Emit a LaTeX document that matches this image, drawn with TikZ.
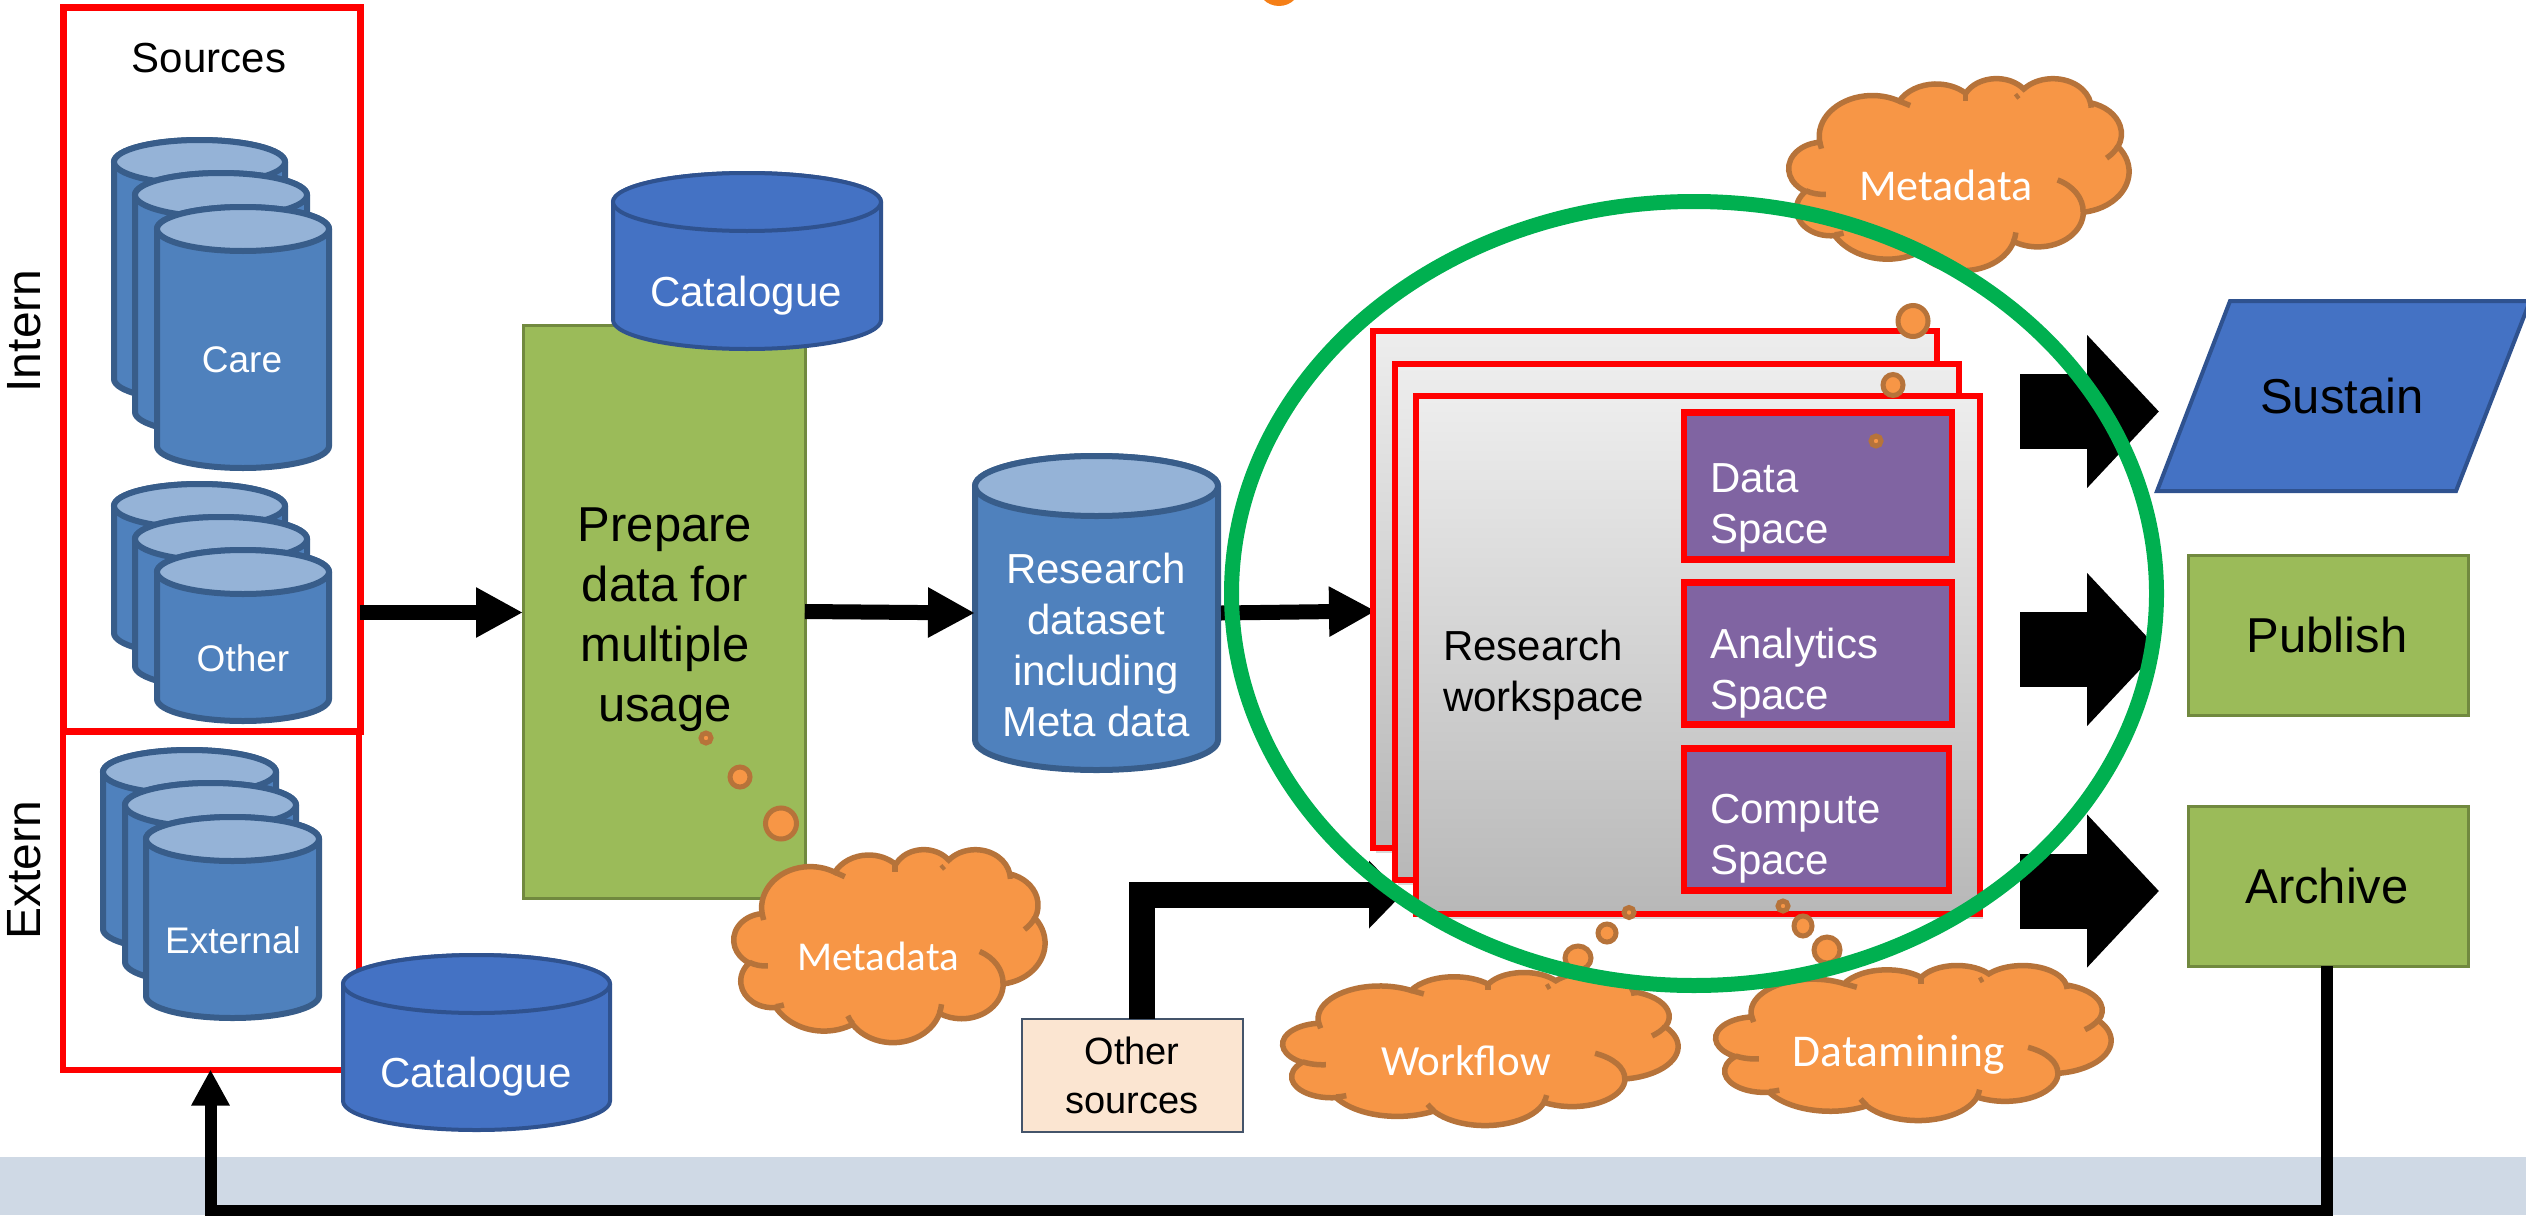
\documentclass[tikz,border=0pt]{standalone}
\usepackage{fontspec}
\setmainfont{Liberation Sans}
\newfontfamily\cloudfont{Carlito}
\usetikzlibrary{arrows.meta,shapes.geometric,shadows}
\definecolor{cylfill}{HTML}{4F81BD}
\definecolor{cylline}{HTML}{385D8A}
\definecolor{cyltop}{HTML}{95B3D7}
\definecolor{catfill}{HTML}{4472C4}
\definecolor{catline}{HTML}{2F528F}
\definecolor{greenfill}{HTML}{9BBB59}
\definecolor{greenline}{HTML}{71893F}
\definecolor{cloudfill}{HTML}{F79646}
\definecolor{cloudline}{HTML}{B6733A}
\definecolor{purplefill}{HTML}{8064A2}
\definecolor{bandfill}{HTML}{CFD9E5}
\definecolor{otherfill}{HTML}{FBE5D1}
\definecolor{otherline}{HTML}{44546A}
\definecolor{ringgreen}{HTML}{00B050}
\definecolor{blob}{HTML}{F57F17}
\tikzset{
  every node/.style={inner sep=0pt,outer sep=0pt},
  redbox/.style={draw=red,line width=7pt,rectangle,anchor=north west},
  sheet/.style={draw=red,line width=6pt,rectangle,anchor=north west,top color=black!7,bottom color=black!28,drop shadow={shadow xshift=3pt,shadow yshift=-5pt,opacity=.3}},
  purplebox/.style={draw=red,line width=6.5pt,fill=purplefill,rectangle,anchor=north west},
  greenbox/.style={draw=greenline,line width=3pt,fill=greenfill,rectangle,anchor=north west},
  cylbody/.style={draw=cylline,line width=6pt,fill=cylfill},
  cylcap/.style={draw=cylline,line width=6pt,fill=cyltop},
  catbody/.style={draw=catline,line width=4pt,fill=catfill},
  catcap/.style={draw=catline,line width=4pt,fill=catfill},
  bubble/.style={draw=cloudline,line width=5pt,fill=cloudfill,ellipse},
  cloudstroke/.style={draw=cloudline,line width=5.5pt,line join=miter},
  flow/.style={line width=15pt,-{Triangle[length=47pt,width=47pt]}},
  bigflow/.style={line width=75pt,-{Triangle[length=72pt,width=149pt]}},
  txtS/.style={font=\fontsize{37}{44}\selectfont},
  txtM/.style={font=\fontsize{42}{51}\selectfont},
  txtL/.style={font=\fontsize{49}{60}\selectfont,align=center},
  txtW/.style={font=\fontsize{42}{51}\selectfont,text=white,align=left},
  cloudtxt/.style={text=white},
}
\newcommand\carc[4]{arc[start angle={atan2(#1*sin(#3),#2*cos(#3))},delta angle={mod(atan2(#1*sin(#3+#4),#2*cos(#3+#4))-atan2(#1*sin(#3),#2*cos(#3))+720,360)},x radius=#1pt,y radius=#2pt]}
\newcommand\cloudshape[4]{%
  \pgfmathsetmacro\csx{#3/4320}\pgfmathsetmacro\csy{#4/4320}%
  \begin{scope}[shift={(#1,#2)},x=1pt,y=1pt,xscale=\csx,yscale=-\csy]
  \draw[cloudstroke,fill=cloudfill] (390,1437)
    \carc{675.3}{919}{-190.4875}{123.7805}
    \carc{533.3}{726.7}{-144.1024}{89.9452}
    \carc{436.5}{594.5}{-145.8079}{99.7230}
    \carc{485.7}{659.5}{-130.9861}{117.2417}
    \carc{533.3}{727.3}{-78.7089}{109.0269}
    \carc{677.5}{922}{-46.2673}{130.2690}
    \carc{578.5}{786.7}{0.6250}{114.0333}
    \carc{675.2}{921.5}{22.4516}{115.1726}
    \carc{772}{1054.3}{66.2426}{75.7110}
    \carc{436}{594.5}{-274.9421}{146.7356}
    \carc{434.5}{594.5}{-246.8285}{152.5189}
    -- cycle;
  \draw[cloudstroke] (469.3,2617.7) \carc{434.5}{594.5}{86.742}{26.4295};
  \draw[cloudstroke] (692.8,3489.9) \carc{436}{594.5}{73.6105}{11.4475};
  \draw[cloudstroke] (1647.8,3909) \carc{675.2}{921.5}{137.6241}{14.0811};
  \draw[cloudstroke] (2882.7,3475.1) \carc{675.2}{921.5}{6.4533}{15.9984};
  \draw[cloudstroke] (3412.9,2295.4) \carc{578.5}{786.7}{-70.2924}{70.9174};
  \draw[cloudstroke] (4179.8,1535.4) \carc{533.3}{727.3}{30.318}{27.7515};
  \draw[cloudstroke] (3832.4,542.6) \carc{485.7}{659.5}{-13.7443}{14.8589};
  \draw[cloudstroke] (390,1437) -- (412,1590);
  \draw[cloudstroke] (1400,519) -- (1540,620);
  \draw[cloudstroke] (2240,340) -- (2240,516);
  \draw[cloudstroke] (2920,383) -- (2880,440);
  \end{scope}}
\newcommand\cyl[8]{% name x1 x2 y1 y2 ry body cap
  \pgfmathsetmacro\ca{(#2+#3)/2}\pgfmathsetmacro\ha{(#3-#2)/2}\pgfmathsetmacro\kx{.5523*\ha}\pgfmathsetmacro\ky{.5523*#6}%
  \pgfmathsetmacro\yt{#4+#6}\pgfmathsetmacro\yb{#5-#6}\pgfmathsetmacro\ym{(#4+#5)/2}%
  \draw[#7] (#2,\yt) -- (#2,\yb) .. controls (#2,\yb+\ky) and (\ca-\kx,#5) .. (\ca,#5)
    .. controls (\ca+\kx,#5) and (#3,\yb+\ky) .. (#3,\yb) -- (#3,\yt)
    .. controls (#3,\yt-\ky) and (\ca+\kx,#4) .. (\ca,#4)
    .. controls (\ca-\kx,#4) and (#2,\yt-\ky) .. (#2,\yt) -- cycle;
  \draw[#8] (\ca,\yt) ellipse [x radius=\ha pt,y radius=#6 pt];
  \pgfmathsetmacro\wa{#3-#2}\pgfmathsetmacro\ha{#5-#4}%
  \node[minimum width=\wa pt,minimum height=\ha pt] (#1) at (\ca,\ym) {};}
\begin{document}
\begin{tikzpicture}[x=1pt,y=-1pt]
\useasboundingbox (0,0) rectangle (2526,1215);
\clip (0,0) rectangle (2526,1215);
% band and stray shape
\fill[bandfill] (0,1157) rectangle (2526,1215);
\fill[blob] (1279,-16) circle (22pt);
% side labels
\node[rotate=90,font=\fontsize{48}{56}\selectfont] (intern) at (24,331) {Intern};
\node[rotate=90,font=\fontsize{48}{56}\selectfont] (extern) at (24,870) {Extern};
% source frames
\node[redbox,minimum width=297pt,minimum height=723pt] (sources) at (63,8) {};
\node[redbox,minimum width=296pt,minimum height=338.5pt,line width=6pt] (externbox) at (63,731) {};
\node[font=\fontsize{42}{50}\selectfont] (sourcesTxt) at (209,58) {Sources};
% care
\cyl{care1}{114}{285}{140}{401}{22}{cylbody}{cylcap}
\cyl{care2}{135}{307}{173}{434}{22}{cylbody}{cylcap}
\cyl{care3}{157}{329}{207}{468}{22}{cylbody}{cylcap}
\node[txtS,text=white] (careTxt) at (242,360) {Care};
% other
\cyl{other1}{114}{285}{484}{655}{22}{cylbody}{cylcap}
\cyl{other2}{135}{307}{517}{688}{22}{cylbody}{cylcap}
\cyl{other3}{157}{329}{550}{721}{22}{cylbody}{cylcap}
\node[txtS,text=white] (otherTxt) at (243,658) {Other};
% external
\cyl{ext1}{103}{276}{750}{951}{22}{cylbody}{cylcap}
\cyl{ext2}{125}{296}{783}{984}{22}{cylbody}{cylcap}
\cyl{ext3}{146}{319}{817}{1018}{22}{cylbody}{cylcap}
\node[txtS,text=white] (externalTxt) at (233,940) {External};
% prepare
\node[greenbox,minimum width=282pt,minimum height=573pt] (prepare) at (523,325) {};
\cyl{cat1}{613}{881}{173}{349}{29}{catbody}{catcap}
\node[font=\fontsize{42}{50}\selectfont,text=white] (cat1Txt) at (746,296) {Catalogue};
\node[txtL] (prepareTxt) at (665,620) {Prepare\\data for\\multiple\\usage};
% catalogue 2
\cyl{cat2}{343}{610}{955}{1130}{29}{catbody}{catcap}
\node[font=\fontsize{42}{50}\selectfont,text=white] (cat2Txt) at (476,1077) {Catalogue};
% dataset
\cyl{dataset}{975}{1218}{456}{770}{30}{cylbody}{cylcap}
\node[txtW,align=center] (datasetTxt) at (1096,645) {Research\\dataset\\including\\Meta data};
% flows
\coordinate (srcOut) at (360,612.5);
\coordinate (dataOut) at (1221,613);
\coordinate (workIn) at (1376,611);
\draw[flow] (srcOut) -- (prepare.west |- srcOut);
\draw[flow] (prepare.east) -- (dataset.west);
\draw[flow] (dataOut) -- (workIn);
% other sources
\node[draw=otherline,line width=2.5pt,fill=otherfill,rectangle,anchor=north west,minimum width=221pt,minimum height=113pt] (othersrc) at (1022,1019) {};
\node[font=\fontsize{38}{49}\selectfont,align=center] (othersrcTxt) at (1132,1075) {Other\\sources};
\coordinate (elbowStart) at (1141.5,1019);
\coordinate (elbowCorner) at (1141.5,894.5);
\coordinate (elbowEnd) at (1402,894.5);
\draw[line width=26pt,-{Triangle[length=33pt,width=66pt]}] (elbowStart) -- (elbowCorner) -- (elbowEnd);
% metadata lower bubbles and cloud
\cloudshape{734}{849}{311}{193}
\node[font=\cloudfont\fontsize{41}{48}\selectfont,cloudtxt] (metaLow) at (878,956) {Metadata};
\node[bubble,minimum width=10pt,minimum height=10pt] (b1) at (706,738) {};
\node[bubble,minimum width=20pt,minimum height=20pt] (b2) at (740,777) {};
\node[bubble,minimum width=31pt,minimum height=31pt] (b3) at (781,823.5) {};
% workspace
\node[sheet,minimum width=564pt,minimum height=517pt] (sheetA) at (1373,331) {};
\node[sheet,minimum width=564pt,minimum height=516pt] (sheetB) at (1395,364) {};
\node[sheet,minimum width=564pt,minimum height=518pt] (sheetC) at (1416,396) {};
\node[purplebox,minimum width=268pt,minimum height=147pt] (dataSp) at (1684,412.5) {};
\node[purplebox,minimum width=268pt,minimum height=142pt] (anaSp) at (1684,582.5) {};
\node[purplebox,minimum width=265pt,minimum height=142pt] (compSp) at (1684,748.5) {};
\node[txtW,anchor=west] (dataTxt) at (1710,508) {Data\\Space};
\node[txtW,anchor=west] (anaTxt) at (1710,673.5) {Analytics\\Space};
\node[txtW,anchor=west] (compTxt) at (1710,839) {Compute\\Space};
\node[txtM,align=left,anchor=west] (wsTxt) at (1443,675) {Research\\workspace};
% upper metadata
\cloudshape{1789}{78}{340}{192}
\node[font=\cloudfont\fontsize{44}{50}\selectfont,cloudtxt] (metaUp) at (1946,185) {Metadata};
\node[bubble,minimum width=30pt,minimum height=31pt] (u1) at (1913,321) {};
\node[bubble,minimum width=20pt,minimum height=21pt] (u2) at (1893,385) {};
\node[bubble,minimum width=10pt,minimum height=10pt] (u3) at (1876,441) {};
% workflow and datamining
\node[bubble,minimum width=10pt,minimum height=10pt] (w1) at (1629,912.5) {};
\node[bubble,minimum width=18pt,minimum height=18pt] (w2) at (1607,933) {};
\node[bubble,minimum width=26pt,minimum height=24pt] (w3) at (1578,958) {};
\cloudshape{1283}{972}{395}{153}
\node[font=\cloudfont\fontsize{43}{50}\selectfont,cloudtxt] (workflowTxt) at (1466,1061) {Workflow};
\node[bubble,minimum width=10pt,minimum height=10pt] (d1) at (1783,906) {};
\node[bubble,minimum width=18pt,minimum height=20pt] (d2) at (1803,926) {};
\node[bubble,minimum width=26pt,minimum height=26pt] (d3) at (1827,950) {};
\cloudshape{1716}{965}{395}{155}
\node[font=\cloudfont\fontsize{45.5}{50}\selectfont,cloudtxt] (dataminingTxt) at (1899,1055) {Datamining};
% outputs
\coordinate (sa) at (2230,301);\coordinate (sb) at (2530,301);\coordinate (sc) at (2456,491);\coordinate (sd) at (2157,491);
\draw[draw=catline,line width=4pt,fill=catfill,line join=miter] (sa) -- (sb) -- (sc) -- (sd) -- cycle;
\node[font=\fontsize{49}{56}\selectfont] (sustainTxt) at (2342,396) {Sustain};
\node[greenbox,minimum width=280pt,minimum height=160pt] (publish) at (2188,555.5) {};
\node[font=\fontsize{49}{56}\selectfont] (publishTxt) at (2327,635) {Publish};
\node[greenbox,minimum width=280pt,minimum height=160pt] (archive) at (2188,806) {};
\node[font=\fontsize{49}{56}\selectfont] (archiveTxt) at (2327,886) {Archive};
\coordinate (o1) at (2020,411.5);\coordinate (o1t) at (2159,411.5);
\coordinate (o2) at (2020,649.5);\coordinate (o2t) at (2159,649.5);
\coordinate (o3) at (2020,891);\coordinate (o3t) at (2159,891);
\draw[bigflow] (o1) -- (o1t);
\draw[bigflow] (o2) -- (o2t);
\draw[bigflow] (o3) -- (o3t);
% feedback
\coordinate (fbA) at (2327,1211);
\coordinate (fbB) at (210.5,1211);
\draw[line width=12pt,line join=miter,-{Triangle[length=36pt,width=36pt]}] (archive.south -| fbA) -- (fbA) -- (fbB) -- (externbox.south -| fbB);
% ring
\node[draw=ringgreen,line width=15pt,ellipse,minimum width=925pt,minimum height=784pt] (ring) at (1694,593.5) {};
\end{tikzpicture}
\end{document}
